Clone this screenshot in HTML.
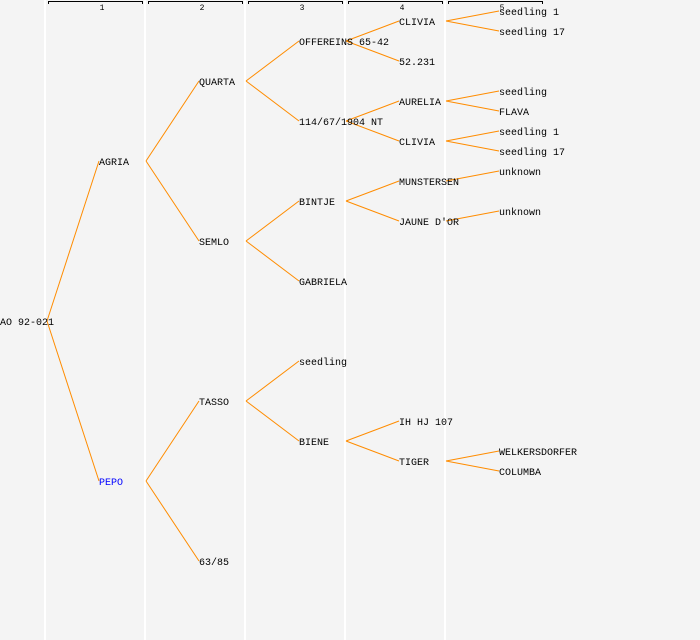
<!DOCTYPE html>
<html><head><style>
body{margin:0;background:#f4f4f4;}
svg{display:block}
text{font-family:"Liberation Mono",monospace;font-size:10px;fill:#000}
</style></head><body>
<svg width="700" height="640" xmlns="http://www.w3.org/2000/svg">
<rect width="700" height="640" fill="#f4f4f4"/>
<g stroke="#fff" stroke-width="2">
<line x1="45" y1="0" x2="45" y2="640"/><line x1="145" y1="0" x2="145" y2="640"/>
<line x1="245" y1="0" x2="245" y2="640"/><line x1="345" y1="0" x2="345" y2="640"/>
<line x1="445" y1="0" x2="445" y2="640"/>
</g>
<g stroke="#000" fill="none" stroke-width="1">
<path d="M48.5 4V1.5H142.5V4"/><path d="M148.5 4V1.5H242.5V4"/><path d="M248.5 4V1.5H342.5V4"/><path d="M348.5 4V1.5H442.5V4"/><path d="M448.5 4V1.5H542.5V4"/>
</g>
<g text-anchor="middle">
<text x="102" y="10" style="font-size:8px">1</text><text x="202" y="10" style="font-size:8px">2</text><text x="302" y="10" style="font-size:8px">3</text><text x="402" y="10" style="font-size:8px">4</text><text x="502" y="10" style="font-size:8px">5</text>
</g>
<g stroke="#ff8c00" stroke-width="1" fill="none">
<path d="M47 321L99 161M47 321L99 481"/>
<path d="M146 161L199 81M146 161L199 241M146 481L199 401M146 481L199 561"/>
<path d="M246 81L299 41M246 81L299 121M246 241L299 201M246 241L299 281M246 401L299 361M246 401L299 441"/>
<path d="M346 41L399 21M346 41L399 61M346 121L399 101M346 121L399 141M346 201L399 181M346 201L399 221M346 441L399 421M346 441L399 461"/>
<path d="M446 21L499 11M446 21L499 31M446 101L499 91M446 101L499 111M446 141L499 131M446 141L499 151M446 181L499 171M446 221L499 211M446 461L499 451M446 461L499 471"/>
</g>
<g transform="translate(0,-1)">
<text x="0" y="326">AO 92-021</text>
<text x="99" y="166">AGRIA</text><text x="99" y="486" style="fill:#0000ff">PEPO</text>
<text x="199" y="86">QUARTA</text><text x="199" y="246">SEMLO</text><text x="199" y="406">TASSO</text><text x="199" y="566">63/85</text>
<text x="299" y="46">OFFEREINS 65-42</text><text x="299" y="126">114/67/1904 NT</text><text x="299" y="206">BINTJE</text><text x="299" y="286">GABRIELA</text><text x="299" y="366">seedling</text><text x="299" y="446">BIENE</text>
<text x="399" y="26">CLIVIA</text><text x="399" y="66">52.231</text><text x="399" y="106">AURELIA</text><text x="399" y="146">CLIVIA</text><text x="399" y="186">MUNSTERSEN</text><text x="399" y="226">JAUNE D'OR</text><text x="399" y="426">IH HJ 107</text><text x="399" y="466">TIGER</text>
<text x="499" y="16">seedling 1</text><text x="499" y="36">seedling 17</text><text x="499" y="96">seedling</text><text x="499" y="116">FLAVA</text><text x="499" y="136">seedling 1</text><text x="499" y="156">seedling 17</text><text x="499" y="176">unknown</text><text x="499" y="216">unknown</text><text x="499" y="456">WELKERSDORFER</text><text x="499" y="476">COLUMBA</text>
</g>
</svg>
</body></html>
